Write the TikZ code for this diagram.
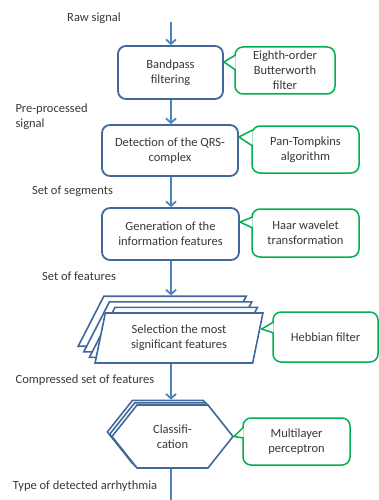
\documentclass[tikz,border=0pt]{standalone}
\usepackage{fontspec}
\setmainfont{Carlito}
\usetikzlibrary{shapes.geometric,shapes.symbols,arrows.meta,calc}

\definecolor{boxblue}{HTML}{41679B}
\definecolor{arrowblue}{HTML}{4F81BD}
\definecolor{notegreen}{HTML}{00B050}
\definecolor{txtgray}{HTML}{383838}

\tikzset{
  stage/.style={draw=boxblue, line width=1.8pt, rounded corners=8pt, fill=white, align=center, text=txtgray},
  sheet/.style={trapezium, trapezium left angle=77.6, trapezium right angle=102.4, trapezium stretches,
    minimum width=168pt, minimum height=50pt, draw=boxblue, line width=1.6pt, fill=white, align=center, text=txtgray},
  hexa/.style={signal, signal to=west and east, signal pointer angle=103, minimum width=121pt, minimum height=63pt,
    draw=boxblue, line width=1.6pt, fill=white, align=center, text=txtgray},
  note/.style={draw=notegreen, line width=1.5pt, rounded corners=8pt, fill=white, align=center, text=txtgray},
  lbl/.style={text=txtgray, align=left},
  flow/.style={draw=arrowblue, line width=1.8pt, -{Straight Barb[length=4.5pt,width=10pt]}},
}

\newcommand{\notetip}[4]{%
  \filldraw[draw=notegreen, fill=white, line width=1.5pt, line join=round]
    ($(#1.west |- 0,#2)+(1.4,0)$) -- (#4) -- ($(#1.west |- 0,#3)+(1.4,0)$);}

\begin{document}
\begin{tikzpicture}[x=1pt,y=-1pt,font=\fontsize{12.5}{15}\selectfont]
  \useasboundingbox (0,0) rectangle (379,500);

  \node[lbl] (raw) at (94,18) {Raw signal};
  \coordinate (start) at (171,22);
  \node[stage, minimum width=105pt, minimum height=53pt] (band) at (170.5,72.5) {Bandpass\\filtering};
  \node[note, minimum width=100pt, minimum height=47pt] (butter) at (285,70.5) {Eighth-order\\Butterworth\\filter};
  \notetip{butter}{55}{70}{band.east |- 0,62}

  \node[lbl, anchor=west] (pre) at (12,117) {Pre-processed\\signal};
  \node[stage, minimum width=136pt, minimum height=51pt] (qrs) at (170,150.5) {Detection of the QRS-\\complex};
  \node[note, minimum width=107pt, minimum height=47pt] (pantomp) at (305.5,149.5) {Pan-Tompkins\\algorithm};
  \notetip{pantomp}{130}{146}{qrs.east |- 0,137}

  \node[lbl] (segs) at (72.5,191) {Set of segments};
  \node[stage, minimum width=137pt, minimum height=52pt] (feat) at (170.5,234) {Generation of the\\information features};
  \node[note, minimum width=107pt, minimum height=48pt] (haar) at (305.5,233) {Haar wavelet\\transformation};
  \notetip{haar}{217}{228}{feat.east |- 0,222}

  \node[lbl] (fset) at (79,276) {Set of features};
  \foreach \k in {3,2,1}
    \node[sheet] (sel\k) at ($(179,338)+(-5.6*\k,-5.6*\k)$) {};
  \node[sheet] (sel) at (179,338) {Selection the most\\significant features};
  \node[note, minimum width=105pt, minimum height=50pt] (hebb) at (325.5,337) {Hebbian filter};
  \notetip{hebb}{322}{333}{$(sel.east)+(3,-9)$}

  \node[lbl] (comp) at (85,380) {Compressed set of features};
  \foreach \k in {2,1}
    \node[hexa] (cls\k) at ($(172.5,436.5)+(-2.3*\k,-2.3*\k)$) {};
  \node[hexa] (cls) at (172.5,436.5) {Classifi-\\cation};
  \node[note, minimum width=107pt, minimum height=47pt] (mlp) at (296.5,441.5) {Multilayer\\perceptron};
  \notetip{mlp}{427}{438}{cls.east}

  \node[lbl] (arr) at (85,486) {Type of detected arrhythmia};
  \coordinate (end) at (171,508);

  \draw[flow] (start) -- (start |- band.north);
  \draw[flow] (band.south -| start) -- (qrs.north -| start);
  \draw[flow] (qrs.south -| start) -- (feat.north -| start);
  \draw[flow] (feat.south -| start) -- (sel3.north -| start);
  \draw[flow] (sel.south -| start) -- (cls2.north -| start);
  \draw[flow] (cls.south -| start) -- (end);
\end{tikzpicture}
\end{document}
